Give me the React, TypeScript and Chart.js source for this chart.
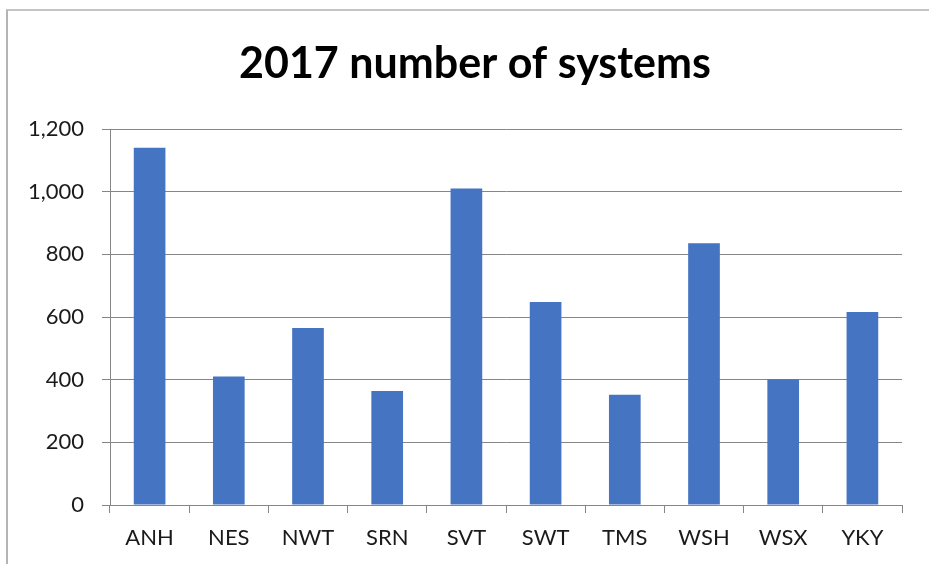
import React, { useEffect, useRef } from "react";
import { Chart, registerables } from "chart.js";

Chart.register(...registerables);

const categories = ["ANH", "NES", "NWT", "SRN", "SVT", "SWT", "TMS", "WSH", "WSX", "YKY"];
const systems2017 = [1140, 410, 565, 364, 1010, 648, 352, 835, 401, 616];
const yTicks = [0, 200, 400, 600, 800, 1000, 1200];
const titleText = "2017 number of systems";

const titlePlugin = {
  id: "centredTitle",
  afterDraw(chart: any) {
    const ctx = chart.ctx;
    ctx.save();
    ctx.font = "bold 43px Lato";
    ctx.fillStyle = "#000";
    ctx.textAlign = "center";
    ctx.textBaseline = "alphabetic";
    ctx.fillText(titleText, 475, 78);
    ctx.restore();
  },
};

export default function App() {
  const ref = useRef<HTMLCanvasElement | null>(null);

  useEffect(() => {
    if (!ref.current) return;
    const chart = new Chart(ref.current, {
      type: "bar",
      data: {
        labels: categories,
        datasets: [
          {
            data: systems2017,
            backgroundColor: "#4474C2",
            borderWidth: 0,
            barPercentage: 0.4,
            categoryPercentage: 1,
          },
        ],
      },
      plugins: [titlePlugin],
      options: {
        responsive: false,
        animation: false,
        devicePixelRatio: 1,
        layout: { padding: { left: 0, right: 27, top: 0, bottom: 0 } },
        plugins: {
          legend: { display: false },
          tooltip: { enabled: false },
          title: {
            display: true,
            text: titleText,
            color: "rgba(0,0,0,0)",
            font: { family: "Lato", size: 40, weight: "bold", lineHeight: 1.2 },
            padding: { top: 41, bottom: 40 },
          },
        },
        scales: {
          x: {
            grid: {
              display: true,
              drawOnChartArea: false,
              drawTicks: true,
              tickLength: 8,
              color: "#868686",
              offset: true,
            },
            border: { display: true, color: "#868686", width: 1 },
            ticks: {
              color: "#1a1a1a",
              font: { family: "Lato", size: 22 },
              padding: 12,
              maxRotation: 0,
            },
            afterFit: (s: any) => {
              s.height = 59;
            },
          },
          y: {
            min: 0,
            max: 1200,
            afterBuildTicks: (s: any) => {
              s.ticks = yTicks.map((v) => ({ value: v }));
            },
            grid: {
              color: "#868686",
              tickLength: 8,
              drawTicks: true,
            },
            border: { display: true, color: "#868686", width: 1 },
            ticks: {
              color: "#1a1a1a",
              font: { family: "Lato", size: 22 },
              padding: 18,
              callback: (v: any) => Number(v).toLocaleString("en-US"),
            },
            afterFit: (s: any) => {
              s.width = 110;
            },
          },
        },
      },
    });
    return () => chart.destroy();
  }, []);

  return (
    <div style={{ position: "fixed", left: 0, top: 0, width: 929, height: 564, background: "#fff", overflow: "hidden" }}>
      <div
        style={{
          position: "absolute",
          left: 6,
          top: 9,
          width: 940,
          height: 580,
          borderLeft: "2px solid #b4b4b4",
          borderTop: "2px solid #c4c4c4",
          boxSizing: "border-box",
        }}
      />
      <canvas ref={ref} width={929} height={564} style={{ position: "absolute", left: 0, top: 0, width: 929, height: 564 }} />
    </div>
  );
}
